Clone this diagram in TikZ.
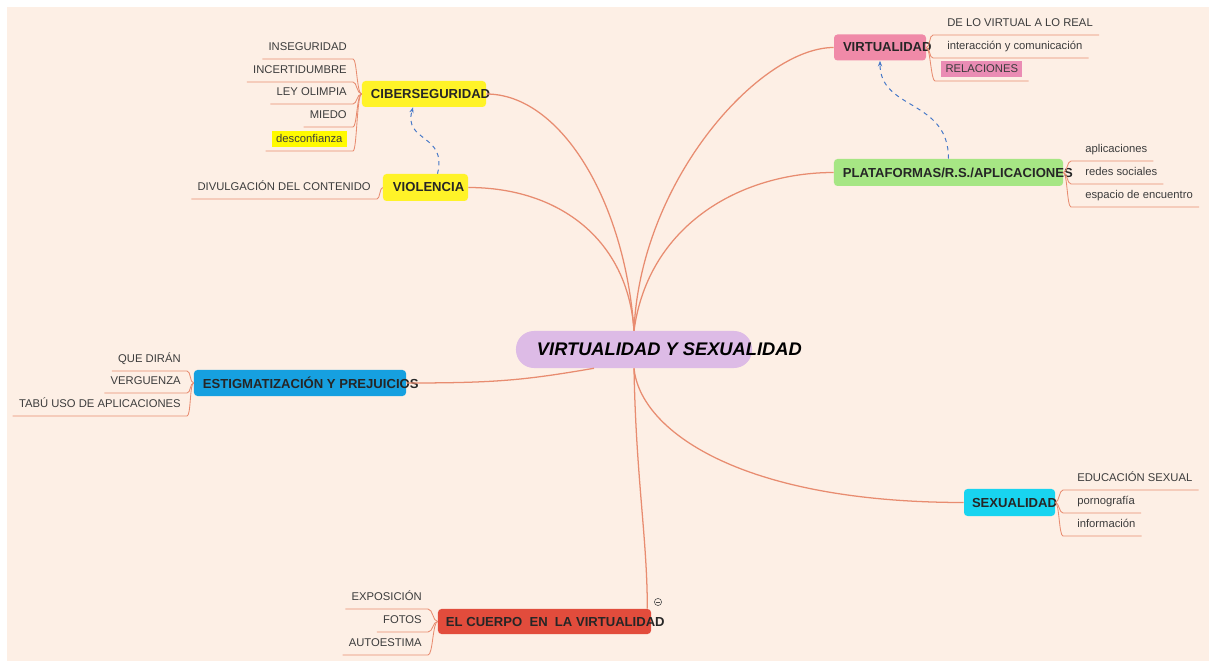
\documentclass[tikz,border=0pt]{standalone}
\usepackage{fontspec}
\setmainfont{Liberation Sans}
\usetikzlibrary{arrows.meta}
\definecolor{peach}{RGB}{253,239,229}
\definecolor{branchred}{RGB}{232,140,112}
\definecolor{linkblue}{RGB}{70,120,200}
\definecolor{cyberyellow}{RGB}{255,243,40}
\definecolor{hlyellow}{RGB}{255,250,0}
\definecolor{virtpink}{RGB}{240,138,168}
\definecolor{relpink}{RGB}{234,140,180}
\definecolor{platgreen}{RGB}{166,230,132}
\definecolor{estigblue}{RGB}{22,160,224}
\definecolor{sexcyan}{RGB}{24,212,240}
\definecolor{bodyred}{RGB}{226,76,60}
\definecolor{hublilac}{RGB}{221,187,230}
\definecolor{leafgray}{RGB}{60,60,60}

\begin{document}
\begin{tikzpicture}[x=0.025cm,y=-0.025cm,
  topic/.style={fill=#1,rounded corners=2.5pt,inner sep=0pt,minimum height=0.65cm},
  ttext/.style={anchor=west,inner sep=0pt,xshift=#1,font=\bfseries\fontsize{9.3}{11}\selectfont,text=black!85},
  leaf/.style={font=\fontsize{8}{10}\selectfont,text=leafgray,inner xsep=0.15cm,inner ysep=3.5pt,text height=6pt,text depth=2pt},
  leafR/.style={leaf,execute at begin node={\hspace*{0.2cm}}},
  branch/.style={draw=branchred,line width=0.9pt},
  twig/.style={draw=branchred,line width=0.6pt},
  link/.style={draw=linkblue,dashed,line width=0.7pt,-{Stealth[length=4pt]}}]
\useasboundingbox (0,0) rectangle (1209,661);
\fill[peach] (7,7) rectangle (1209,661);

\node[fill=hublilac,rounded corners=0.45cm,minimum width=5.9cm,minimum height=0.925cm,inner sep=0pt,
  label={[anchor=west,inner sep=0pt,xshift=0.525cm,font=\bfseries\itshape\fontsize{13}{15}\selectfont]west:VIRTUALIDAD Y SEXUALIDAD}] (hub) at (634,349.5) {};

\node[topic=cyberyellow,minimum width=3.1cm,label={[ttext=0.225cm]west:CIBERSEGURIDAD}] (ciber) at (424,94) {};
\node[topic=cyberyellow,minimum width=2.125cm,minimum height=0.675cm,label={[ttext=0.25cm]west:VIOLENCIA}] (viol) at (425.5,187.5) {};
\node[topic=virtpink,minimum width=2.3cm,label={[ttext=0.225cm]west:VIRTUALIDAD}] (virt) at (880,47.5) {};
\node[topic=platgreen,minimum width=5.725cm,minimum height=0.675cm,label={[ttext=0.225cm]west:PLATAFORMAS/R.S./APLICACIONES}] (plat) at (948.5,172.5) {};
\node[topic=estigblue,minimum width=5.3cm,label={[ttext=0.225cm]west:ESTIGMATIZACIÓN Y PREJUICIOS}] (estig) at (300,383) {};
\node[topic=sexcyan,minimum width=2.275cm,minimum height=0.675cm,label={[ttext=0.2cm]west:SEXUALIDAD}] (sex) at (1009.5,502.5) {};
\node[topic=bodyred,minimum width=5.325cm,minimum height=0.625cm,label={[ttext=0.2cm]west:EL CUERPO\ \ EN\ \ LA VIRTUALIDAD}] (body) at (544.5,621.5) {};
\node[draw=black!70,circle,inner sep=0pt,minimum size=0.18cm,line width=0.4pt] (fold) at (658,602) {};
\draw[black!70,line width=0.4pt] ([xshift=-1.6pt]fold.center) -- ([xshift=1.6pt]fold.center);

\node[leaf,anchor=south east] (inseg) at (353,59) {INSEGURIDAD};
\node[leaf,anchor=south east] (incert) at (353,82) {INCERTIDUMBRE};
\node[leaf,anchor=south east] (ley) at (353,104) {LEY OLIMPIA};
\node[leaf,anchor=south east] (miedo) at (353,127) {MIEDO};
\node[leaf,anchor=south east] (desc) at (353,151) {\colorbox{hlyellow}{desconfianza}};
\node[leaf,anchor=south east] (divul) at (377,199) {DIVULGACIÓN DEL CONTENIDO};

\node[leafR,anchor=south west] (delo) at (933,35) {DE LO VIRTUAL A LO REAL};
\node[leafR,anchor=south west] (inter) at (933,58) {interacción y comunicación};
\node[leaf,anchor=south west] (rel) at (935,81) {\colorbox{relpink}{RELACIONES}};

\node[leafR,anchor=south west] (apps) at (1071,161) {aplicaciones};
\node[leafR,anchor=south west] (redes) at (1071,184) {redes sociales};
\node[leafR,anchor=south west] (espacio) at (1071,207) {espacio de encuentro};

\node[leaf,anchor=south east] (que) at (187,371) {QUE DIRÁN};
\node[leaf,anchor=south east] (verg) at (187,393) {VERGUENZA};
\node[leaf,anchor=south east] (tabu) at (187,416) {TABÚ USO DE APLICACIONES};

\node[leafR,anchor=south west] (edu) at (1063,490) {EDUCACIÓN SEXUAL};
\node[leafR,anchor=south west] (porno) at (1063,513) {pornografía};
\node[leafR,anchor=south west] (info) at (1063,536) {información};

\node[leaf,anchor=south east] (expo) at (428,609) {EXPOSICIÓN};
\node[leaf,anchor=south east] (fotos) at (428,632) {FOTOS};
\node[leaf,anchor=south east] (auto) at (428,655) {AUTOESTIMA};

\draw[branch] (ciber.east) .. controls +(74,0) and +(-9,-130) .. (hub.north);
\draw[branch] (viol.east) .. controls +(92,0) and +(-6,-90) .. (hub.north);
\draw[branch] (hub.north) .. controls +(6,-150) and +(-74,0) .. (virt.west);
\draw[branch] (hub.north) .. controls +(14,-105) and +(-94,0) .. (plat.west);
\draw[branch] (estig.east) .. controls +(90,0) and +(-70,12) .. ([xshift=-1cm]hub.south);
\draw[branch] (hub.south) .. controls +(6,62) and +(-224,0) .. (sex.west);
\draw[branch] (hub.south) .. controls +(2,110) and +(0,-70) .. ([xshift=-0.1cm]body.north east);

\foreach \l in {inseg,incert,ley,miedo,desc}
  \draw[twig] (ciber.west) .. controls +(-5,0) and +(4,0) .. (\l.south east) -- (\l.south west);
\draw[twig] (viol.west) .. controls +(-3,0) and +(3,0) .. (divul.south east) -- (divul.south west);
\foreach \l in {delo,inter,rel}
  \draw[twig] (virt.east) .. controls +(4,0) and +(-4,0) .. (\l.south west) -- (\l.south east);
\foreach \l in {apps,redes,espacio}
  \draw[twig] (plat.east) .. controls +(4,0) and +(-4,0) .. (\l.south west) -- (\l.south east);
\foreach \l in {que,verg,tabu}
  \draw[twig] (estig.west) .. controls +(-4,0) and +(4,0) .. (\l.south east) -- (\l.south west);
\foreach \l in {edu,porno,info}
  \draw[twig] (sex.east) .. controls +(4,0) and +(-4,0) .. (\l.south west) -- (\l.south east);
\foreach \l in {expo,fotos,auto}
  \draw[twig] (body.west) .. controls +(-5,0) and +(5,0) .. (\l.south east) -- (\l.south west);

\draw[link] ([xshift=0.3cm]viol.north) .. controls +(10,-40) and +(-10,35) .. ([xshift=-0.275cm]ciber.south);
\draw[link] (plat.north) .. controls +(0,-60) and +(0,50) .. (virt.south);
\end{tikzpicture}
\end{document}
